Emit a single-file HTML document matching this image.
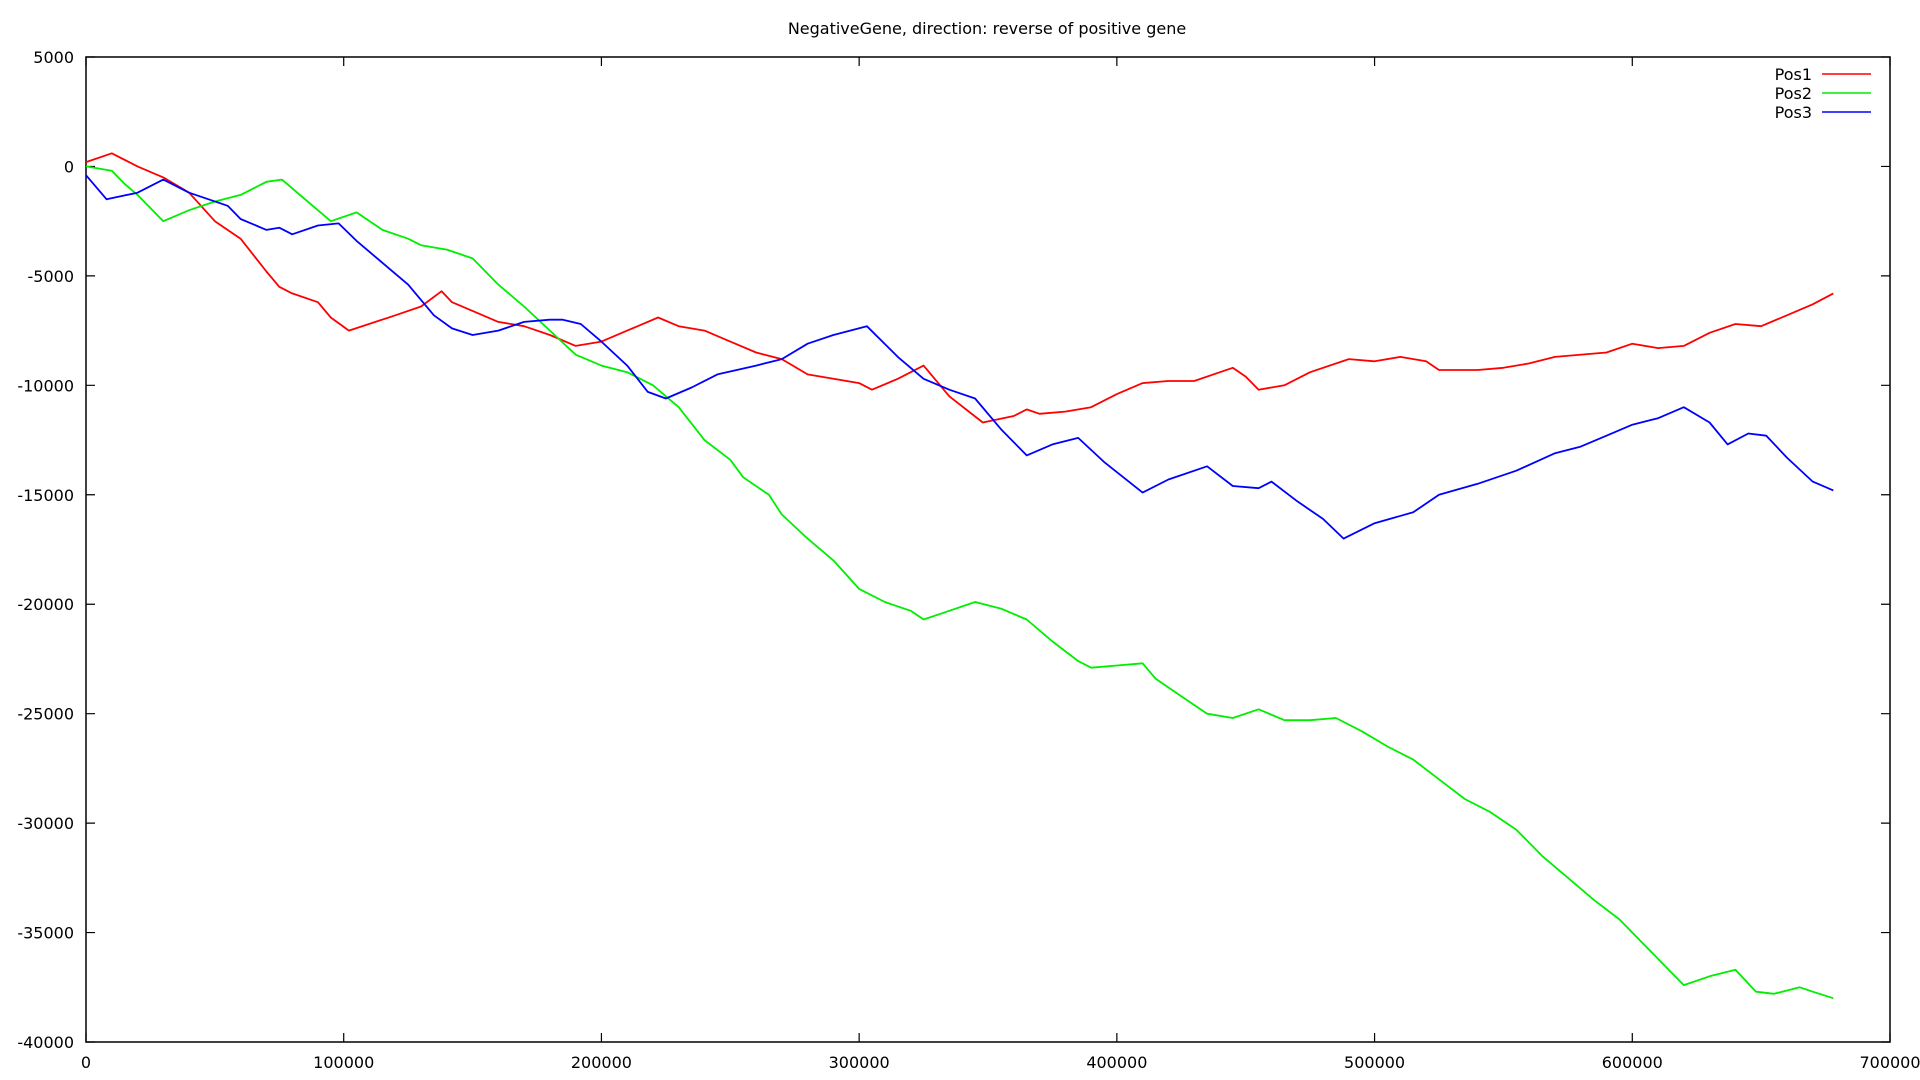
<!DOCTYPE html>
<html><head><meta charset="utf-8"><style>
html,body{margin:0;padding:0;background:#fff;}
svg{display:block;font-family:"DejaVu Sans","Liberation Sans",sans-serif;}
</style></head><body>
<svg id="chart" width="1920" height="1080" viewBox="0 0 1920 1080" xmlns="http://www.w3.org/2000/svg">
<rect width="1920" height="1080" fill="#fff"/>
<text x="987" y="34" font-size="16" text-anchor="middle">NegativeGene, direction: reverse of positive gene</text>
<g id="axes"></g>
<g id="series"></g>
<g id="legend"></g>
</svg>
<script>
const xTicks=[0,100000,200000,300000,400000,500000,600000,700000];
const yTicks=[5000,0,-5000,-10000,-15000,-20000,-25000,-30000,-35000,-40000];
const seriesNames=["Pos1","Pos2","Pos3"];
const seriesColors=["#ff0000","#00ee00","#0000ff"];
const pos1X=[0,10000,20000,30000,40000,50000,60000,70000,75000,80000,90000,95000,102000,120000,130000,138000,142000,150000,160000,170000,180000,190000,200000,210000,222000,230000,240000,250000,260000,270000,280000,290000,300000,305000,315000,325000,335000,348000,360000,365000,370000,380000,390000,400000,410000,420000,430000,440000,445000,450000,455000,465000,475000,490000,500000,510000,520000,525000,540000,550000,560000,570000,590000,600000,610000,620000,630000,640000,650000,660000,670000,678000];
const pos1Y=[200,600,0,-500,-1200,-2500,-3300,-4800,-5500,-5800,-6200,-6900,-7500,-6800,-6400,-5700,-6200,-6600,-7100,-7300,-7700,-8200,-8000,-7500,-6900,-7300,-7500,-8000,-8500,-8800,-9500,-9700,-9900,-10200,-9700,-9100,-10500,-11700,-11400,-11100,-11300,-11200,-11000,-10400,-9900,-9800,-9800,-9400,-9200,-9600,-10200,-10000,-9400,-8800,-8900,-8700,-8900,-9300,-9300,-9200,-9000,-8700,-8500,-8100,-8300,-8200,-7600,-7200,-7300,-6800,-6300,-5800];
const pos2X=[0,10000,15000,20000,30000,40000,50000,60000,70000,76000,85000,95000,105000,115000,125000,130000,140000,150000,160000,170000,180000,190000,200000,210000,220000,230000,240000,250000,255000,265000,270000,280000,290000,300000,310000,320000,325000,335000,345000,355000,365000,375000,385000,390000,400000,410000,415000,425000,435000,445000,455000,465000,475000,485000,495000,505000,515000,525000,535000,545000,555000,565000,575000,585000,595000,605000,615000,620000,630000,640000,648000,655000,665000,670000,678000];
const pos2Y=[0,-200,-800,-1300,-2500,-2000,-1600,-1300,-700,-600,-1500,-2500,-2100,-2900,-3300,-3600,-3800,-4200,-5400,-6400,-7500,-8600,-9100,-9400,-10000,-11000,-12500,-13400,-14200,-15000,-15900,-17000,-18000,-19300,-19900,-20300,-20700,-20300,-19900,-20200,-20700,-21700,-22600,-22900,-22800,-22700,-23400,-24200,-25000,-25200,-24800,-25300,-25300,-25200,-25800,-26500,-27100,-28000,-28900,-29500,-30300,-31500,-32500,-33500,-34400,-35600,-36800,-37400,-37000,-36700,-37700,-37800,-37500,-37700,-38000];
const pos3X=[0,8000,20000,30000,40000,55000,60000,70000,75000,80000,90000,98000,105000,115000,125000,135000,142000,150000,160000,170000,180000,185000,192000,200000,210000,218000,225000,235000,245000,260000,270000,280000,290000,303000,315000,325000,335000,345000,355000,365000,375000,385000,395000,410000,420000,435000,445000,455000,460000,470000,480000,488000,500000,515000,525000,540000,555000,570000,580000,590000,600000,610000,620000,630000,637000,645000,652000,660000,670000,678000];
const pos3Y=[-400,-1500,-1200,-600,-1200,-1800,-2400,-2900,-2800,-3100,-2700,-2600,-3400,-4400,-5400,-6800,-7400,-7700,-7500,-7100,-7000,-7000,-7200,-8000,-9100,-10300,-10600,-10100,-9500,-9100,-8800,-8100,-7700,-7300,-8700,-9700,-10200,-10600,-12000,-13200,-12700,-12400,-13500,-14900,-14300,-13700,-14600,-14700,-14400,-15300,-16100,-17000,-16300,-15800,-15000,-14500,-13900,-13100,-12800,-12300,-11800,-11500,-11000,-11700,-12700,-12200,-12300,-13300,-14400,-14800];

const L=86,R=1890,T=57,B=1042;
const xMin=0,xMax=700000,yMin=-40000,yMax=5000;
function sx(v){return L+(v-xMin)/(xMax-xMin)*(R-L);}
function sy(v){return B-(v-yMin)/(yMax-yMin)*(B-T);}
const NS="http://www.w3.org/2000/svg";
function mk(tag,attrs,parent){const e=document.createElementNS(NS,tag);for(const k in attrs)e.setAttribute(k,attrs[k]);parent.appendChild(e);return e;}
const axes=document.getElementById('axes');
const frame=mk('rect',{x:L,y:T,width:R-L,height:B-T,fill:'none',stroke:'#000','stroke-width':1.5},axes);


xTicks.forEach(v=>{
  const x=sx(v);
  const t=mk('path',{d:`M${x},${B}v-9M${x},${T}v9`,stroke:'#000','stroke-width':1.2},axes);
  
  
  const lb=mk('text',{x:x,y:B+26,'font-size':16,'text-anchor':'middle'},axes);
  lb.textContent=v;
  
  
});
yTicks.forEach(v=>{
  const y=sy(v);
  const t=mk('path',{d:`M${L},${y}h9M${R},${y}h-9`,stroke:'#000','stroke-width':1.2},axes);
  
  
  const lb=mk('text',{x:L-12,y:y+6,'font-size':16,'text-anchor':'end'},axes);
  lb.textContent=v;
  
  
});
const sg=document.getElementById('series');
const data=[[pos1X,pos1Y],[pos2X,pos2Y],[pos3X,pos3Y]];
data.forEach((d,i)=>{
  const pts=d[0].map((x,j)=>sx(x).toFixed(1)+','+sy(d[1][j]).toFixed(1)).join(' ');
  const p=mk('polyline',{points:pts,fill:'none',stroke:seriesColors[i],'stroke-width':1.8,'stroke-linejoin':'round'},sg);
  
  
});
const lg=document.getElementById('legend');
seriesNames.forEach((n,i)=>{
  const y=74+i*19;
  const t=mk('text',{x:1812,y:y+6,'font-size':16,'text-anchor':'end'},lg);
  t.textContent=n;
  
  
  const l=mk('line',{x1:1822,x2:1871,y1:y,y2:y,stroke:seriesColors[i],'stroke-width':1.5},lg);
  
  
});
</script>
</body></html>
